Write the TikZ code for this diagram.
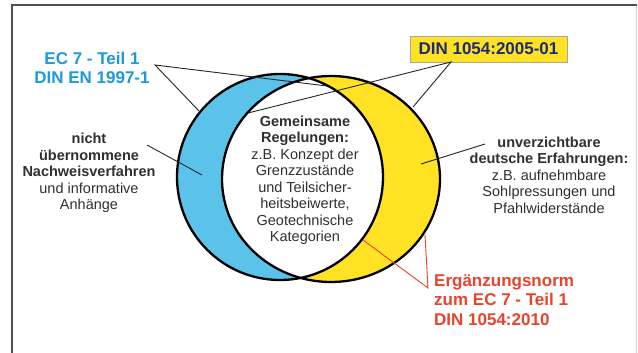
\documentclass[tikz,border=0pt]{standalone}
\usepackage{fontspec}
\setmainfont{Liberation Sans}
\definecolor{bluef}{HTML}{5BC2EA}
\definecolor{yell}{HTML}{FFE223}
\definecolor{ecc}{HTML}{1B9AD6}
\definecolor{navy}{HTML}{1E2A78}
\definecolor{redc}{HTML}{E8432D}
\definecolor{txt}{HTML}{303030}
\definecolor{framec}{HTML}{505050}
\begin{document}
\begin{tikzpicture}[x=1pt,y=-1pt,
  ring/.style={line width=2.3pt, draw=black},
  leader/.style={line width=0.9pt, draw=black!85},
  redleader/.style={line width=0.9pt, draw=redc},
  body/.style={font=\fontsize{14.5}{16.5}\selectfont, text=txt, align=center, inner sep=0pt},
  big/.style={font=\bfseries\fontsize{17}{18.5}\selectfont, inner sep=0pt},
  redtxt/.style={font=\bfseries\fontsize{17}{19.5}\selectfont, inner sep=0pt, text=redc, align=left}]
\useasboundingbox (0,0) rectangle (638,353);
\fill[white] (0,0) rectangle (638,353);
% frame
\draw[gray!35, line width=1pt] (636,5) -- (636,353);
\draw[framec, line width=1.8pt] (12,353) -- (12,5) -- (637,5);
% circles
\coordinate (L) at (280,177);
\coordinate (R) at (331,179);
\fill[bluef] (L) circle [radius=103pt];
\fill[yell] (R) ellipse [x radius=109pt, y radius=103pt];
\begin{scope}
  \clip (L) circle [radius=103pt];
  \fill[white] (R) ellipse [x radius=109pt, y radius=103pt];
\end{scope}
\draw[ring] (L) circle [radius=103pt];
\draw[ring] (R) ellipse [x radius=109pt, y radius=103pt];
% labels
\node[big, text=ecc, align=center] (ec7) at (92,68) {EC 7 - Teil 1\\DIN EN 1997-1};
\node[big, text=navy, fill=yell, draw=gray!70, line width=0.6pt, minimum width=157pt, minimum height=26pt] (din) at (488.5,49) {DIN 1054:2005-01};
\node[body] (left) at (89,173) {\textbf{nicht}\\\textbf{übernommene}\\\textbf{Nachweisverfahren}\\und informative\\Anhänge};
\node[body] (mid) at (305,180) {\textbf{Gemeinsame}\\\textbf{Regelungen:}\\z.B. Konzept der\\Grenzzustände\\und Teilsicher-\\heitsbeiwerte,\\Geotechnische\\Kategorien};
\node[body] (right) at (549,175) {\textbf{unverzichtbare}\\\textbf{deutsche Erfahrungen:}\\z.B. aufnehmbare\\Sohlpressungen und\\Pfahlwiderstände};
\node[redtxt, anchor=west] (erg) at (434,300) {Ergänzungsnorm\\zum EC 7 - Teil 1\\DIN 1054:2010};
% leader points
\coordinate (ecA) at (155,65);
\coordinate (ecB) at (200,112);
\coordinate (ecC) at (327,86);
\coordinate (dinA) at (451,62);
\coordinate (dinB) at (413,107);
\coordinate (dinC) at (248,113);
\coordinate (leftA) at (147,145);
\coordinate (leftB) at (202,175);
\coordinate (rightA) at (485,144);
\coordinate (rightB) at (421,164);
\coordinate (ergA) at (428,288);
\coordinate (ergB) at (363,240);
\coordinate (ergC) at (425,235);
% leaders
\draw[leader] (ecB) -- (ecA) -- (ecC);
\draw[leader] (dinB) -- (dinA) -- (dinC);
\draw[leader] (leftA) -- (leftB);
\draw[leader] (rightA) -- (rightB);
\draw[redleader] (ergB) -- (ergA) -- (ergC);
\end{tikzpicture}
\end{document}
